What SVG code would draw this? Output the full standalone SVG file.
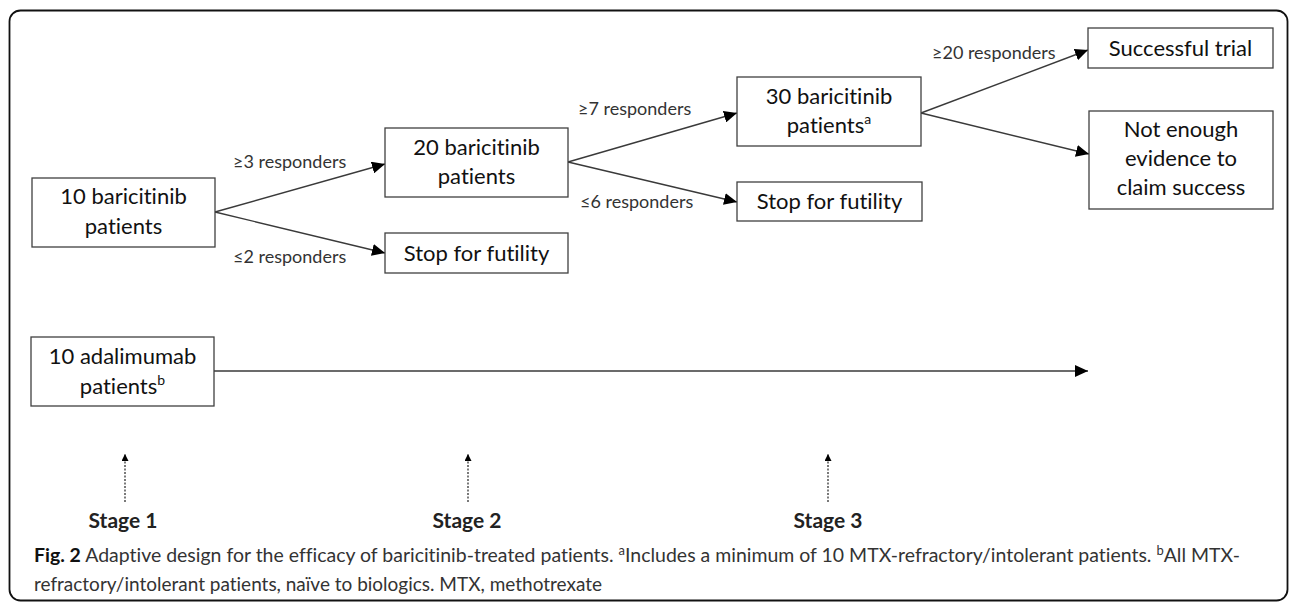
<svg xmlns="http://www.w3.org/2000/svg" width="1290" height="603" viewBox="0 0 1290 603">
<defs>
<style>
text{font-variant-ligatures:none}
.box{fill:#fff;stroke:#404040;stroke-width:1.3}
.bt{font-family:Lato,"Open Sans",sans-serif;font-size:22px;fill:#111;text-anchor:middle}
.lbl{font-family:Lato,"Open Sans",sans-serif;font-size:18px;fill:#333}
.conn{stroke:#3a3a3a;stroke-width:1.4;fill:none}
.dot{stroke:#333;stroke-width:1.3;stroke-dasharray:2 1.5;fill:none}
.stage{font-family:Lato,"Open Sans",sans-serif;font-size:21px;font-weight:bold;fill:#222;text-anchor:middle}
.cap{font-family:Lato,"Open Sans",sans-serif;font-size:19.5px;fill:#333}
</style>
<marker id="ah" markerUnits="userSpaceOnUse" markerWidth="14" markerHeight="12" refX="13" refY="6" orient="auto">
<path d="M0,0 L13,6 L0,12 z" fill="#000"/>
</marker>
<marker id="sh" markerUnits="userSpaceOnUse" markerWidth="8" markerHeight="8" refX="7" refY="3.5" orient="auto">
<path d="M0,0 L7,3.5 L0,7 z" fill="#000"/>
</marker>
</defs>
<rect x="9.5" y="10.5" width="1278" height="590" rx="11" fill="#fff" stroke="#111" stroke-width="1.8"/>

<g id="connectors">
<line class="conn" x1="215" y1="212" x2="385" y2="164" marker-end="url(#ah)"/>
<line class="conn" x1="215" y1="212" x2="385" y2="253" marker-end="url(#ah)"/>
<line class="conn" x1="568" y1="162" x2="737" y2="113" marker-end="url(#ah)"/>
<line class="conn" x1="568" y1="162" x2="737" y2="202" marker-end="url(#ah)"/>
<line class="conn" x1="921" y1="113" x2="1088" y2="50" marker-end="url(#ah)"/>
<line class="conn" x1="921" y1="113" x2="1089" y2="154" marker-end="url(#ah)"/>
<line class="conn" x1="214" y1="371" x2="1088" y2="371" marker-end="url(#ah)"/>
<line class="dot" x1="125" y1="502" x2="125" y2="454" marker-end="url(#sh)"/>
<line class="dot" x1="468" y1="502" x2="468" y2="454" marker-end="url(#sh)"/>
<line class="dot" x1="828" y1="502" x2="828" y2="454" marker-end="url(#sh)"/>
</g>

<g id="labels">
<text class="lbl" x="233" y="168">≥3 responders</text>
<text class="lbl" x="233" y="263">≤2 responders</text>
<text class="lbl" x="578" y="115">≥7 responders</text>
<text class="lbl" x="580" y="208">≤6 responders</text>
<text class="lbl" x="932" y="59">≥20 responders</text>
</g>

<g id="n1">
<rect class="box" x="32" y="178" width="183" height="69"/>
<text class="bt" x="123.5" y="204">10 baricitinib</text>
<text class="bt" x="123.5" y="234">patients</text>
</g>
<g id="n2">
<rect class="box" x="385" y="128" width="183" height="69"/>
<text class="bt" x="476.5" y="155">20 baricitinib</text>
<text class="bt" x="476.5" y="184">patients</text>
</g>
<g id="n3">
<rect class="box" x="385" y="233" width="183" height="40"/>
<text class="bt" x="476.5" y="261">Stop for futility</text>
</g>
<g id="n4">
<rect class="box" x="737" y="77" width="184" height="69"/>
<text class="bt" x="829" y="104">30 baricitinib</text>
<text class="bt" x="829" y="133">patients<tspan font-size="14" dy="-9">a</tspan></text>
</g>
<g id="n5">
<rect class="box" x="737" y="182" width="185" height="39"/>
<text class="bt" x="829.5" y="209">Stop for futility</text>
</g>
<g id="n6">
<rect class="box" x="1088" y="28" width="185" height="40"/>
<text class="bt" x="1180.5" y="56">Successful trial</text>
</g>
<g id="n7">
<rect class="box" x="1089" y="111" width="184" height="98"/>
<text class="bt" x="1181" y="137">Not enough</text>
<text class="bt" x="1181" y="166">evidence to</text>
<text class="bt" x="1181" y="195">claim success</text>
</g>
<g id="n8">
<rect class="box" x="31" y="337" width="183" height="69"/>
<text class="bt" x="122.5" y="364">10 adalimumab</text>
<text class="bt" x="122.5" y="394">patients<tspan font-size="14" dy="-9">b</tspan></text>
</g>

<g id="stages">
<text class="stage" x="123" y="528">Stage 1</text>
<text class="stage" x="467" y="528">Stage 2</text>
<text class="stage" x="828" y="528">Stage 3</text>
</g>

<g id="caption">
<text class="cap" x="34" y="562" textLength="1206" lengthAdjust="spacingAndGlyphs"><tspan font-weight="bold" fill="#111">Fig. 2</tspan> Adaptive design for the efficacy of baricitinib-treated patients. <tspan font-size="13" dy="-7">a</tspan><tspan dy="7">Includes a minimum of 10 MTX-refractory/intolerant patients. </tspan><tspan font-size="13" dy="-7">b</tspan><tspan dy="7">All MTX-</tspan></text>
<text class="cap" x="34" y="591" textLength="568" lengthAdjust="spacingAndGlyphs">refractory/intolerant patients, naïve to biologics. MTX, methotrexate</text>
</g>
</svg>
